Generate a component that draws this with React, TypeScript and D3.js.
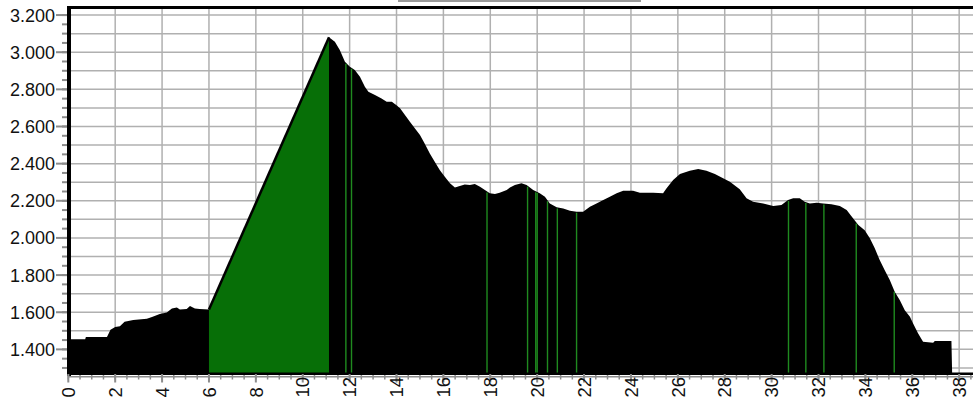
import React from "react";
import * as d3 from "d3";

const W = 973;
const H = 410;

// elevation profile (km, m)
const profileKm = [0, 0.72, 0.75, 1.65, 1.8, 2.0, 2.2, 2.4, 2.77, 3.35, 3.6, 3.9, 4.2, 4.42, 4.63, 4.76, 5.05, 5.19, 5.4, 5.6, 6.0,
  11.12, 11.37, 11.58, 11.8, 12.01, 12.22, 12.44, 12.65, 12.8, 13.08, 13.36, 13.58, 13.8, 14.0, 14.15, 14.36, 14.57, 14.78, 15.0,
  15.2, 15.42, 15.63, 15.85, 16.06, 16.28, 16.49, 16.7, 16.91, 17.13, 17.34, 17.56, 17.77, 17.98, 18.2, 18.4, 18.7, 18.84, 19.05,
  19.33, 19.55, 19.83, 20.11, 20.33, 20.54, 20.83, 21.11, 21.4, 21.68, 21.96, 22.25, 22.53, 22.82, 23.1, 23.39, 23.67, 24.09,
  24.38, 24.95, 25.37, 25.52, 25.8, 26.09, 26.51, 26.87, 27.22, 27.58, 27.93, 28.22, 28.64, 28.93, 29.21, 29.64, 30.07, 30.42,
  30.7, 30.92, 31.2, 31.41, 31.63, 31.92, 32.2, 32.55, 32.91, 33.2, 33.48, 33.7, 33.97, 34.19, 34.4, 34.61, 34.82, 35.04, 35.25,
  35.47, 35.68, 35.9, 36.03, 36.25, 36.46, 36.89, 36.96, 37.67, 37.7, 38.7];
const profileElev = [1454, 1454, 1466, 1466, 1505, 1520, 1524, 1549, 1558, 1565, 1576, 1590, 1599, 1620, 1626, 1615, 1618, 1633, 1620, 1618, 1615,
  3080, 3056, 3012, 2949, 2922, 2904, 2868, 2814, 2787, 2769, 2751, 2733, 2733, 2715, 2698, 2662, 2625, 2590, 2554,
  2509, 2455, 2410, 2365, 2329, 2294, 2272, 2279, 2288, 2285, 2290, 2276, 2258, 2240, 2236, 2243, 2258, 2272, 2285,
  2294, 2285, 2258, 2240, 2222, 2186, 2165, 2159, 2146, 2141, 2141, 2168, 2186, 2204, 2222, 2240, 2254, 2254,
  2243, 2243, 2240, 2267, 2312, 2344, 2362, 2371, 2362, 2344, 2321, 2303, 2262, 2213, 2195, 2186, 2172, 2177,
  2204, 2213, 2213, 2195, 2186, 2190, 2186, 2182, 2172, 2150, 2105, 2069, 2042, 1998, 1944, 1881, 1827, 1773, 1710,
  1665, 1611, 1575, 1540, 1486, 1441, 1436, 1445, 1445, 1270, 1270];

// climb segment (green)
const climbKm = [6.0, 11.12];
const climbElev = [1615, 3080];

// short green marker segments
const markerKm = [11.84, 12.08, 17.86, 19.59, 19.94, 20.0, 20.44, 20.86, 21.68, 30.72, 31.46, 32.23, 33.61, 35.23];

const yTickValues = [1400, 1600, 1800, 2000, 2200, 2400, 2600, 2800, 3000, 3200];
const yTickLabels = ["1.400", "1.600", "1.800", "2.000", "2.200", "2.400", "2.600", "2.800", "3.000", "3.200"];
const xTickValues = [0, 2, 4, 6, 8, 10, 12, 14, 16, 18, 20, 22, 24, 26, 28, 30, 32, 34, 36, 38];

export default function App() {
  const x = d3.scaleLinear().domain([0, 38.59]).range([68.3, 973]);
  const y = d3.scaleLinear().domain([1262, 3238]).range([375, 8]);
  const base = 375;

  const pts: [number, number][] = profileKm.map((k, i) => [k, profileElev[i]]);
  const area = d3.area<[number, number]>().x(d => x(d[0])).y0(base).y1(d => y(d[1]));
  const climbPts: [number, number][] = climbKm.map((k, i) => [k, climbElev[i]]);
  const line = d3.line<[number, number]>().x(d => x(d[0])).y(d => y(d[1]));

  const elevAt = (k: number) => {
    const i = d3.bisectRight(profileKm, k);
    const k0 = profileKm[i - 1], k1 = profileKm[i];
    const e0 = profileElev[i - 1], e1 = profileElev[i];
    return e0 + (e1 - e0) * (k - k0) / (k1 - k0);
  };

  const yGrid = d3.range(1300, 3201, 100);
  const yMinor = d3.range(1300, 3201, 50);
  const xGrid = d3.range(2, 39, 2);
  const xMinor = d3.range(0, 38.6, 0.5);
  const font = "'Liberation Sans', Arial, sans-serif";

  return (
    <svg width={W} height={H} style={{ position: "absolute", left: 0, top: 0, background: "#fff" }}>
      {/* grid */}
      {yGrid.map(v => (
        <line key={"gy" + v} x1={68} x2={W} y1={y(v)} y2={y(v)} stroke="#b0b0b0" strokeWidth={1.5} />
      ))}
      {xGrid.map(v => (
        <line key={"gx" + v} x1={x(v)} x2={x(v)} y1={8} y2={base} stroke="#b0b0b0" strokeWidth={1.5} />
      ))}
      {/* profile */}
      <path d={area(pts) || ""} fill="#000" />
      <path d={area(climbPts) || ""} fill="#076f07" />
      <path d={line(climbPts) || ""} fill="none" stroke="#000" strokeWidth={2.5} />
      {markerKm.map((k, i) => (
        <line key={"m" + i} x1={x(k)} x2={x(k)} y1={base} y2={y(elevAt(k)) + 1} stroke="#1f8a1f" strokeWidth={1.4} />
      ))}
      {/* frame */}
      <line x1={67} x2={W} y1={7.5} y2={7.5} stroke="#000" strokeWidth={3} />
      <line x1={69} x2={69} y1={6} y2={376} stroke="#000" strokeWidth={4} />
      <line x1={67} x2={W} y1={373.8} y2={373.8} stroke="#000" strokeWidth={2.5} />
      <line x1={68} x2={W} y1={376.8} y2={376.8} stroke="#8c8c8c" strokeWidth={1.5} />
      <line x1={398} x2={641} y1={1} y2={1} stroke="#9a9a9a" strokeWidth={2} />
      {/* x ticks */}
      {xMinor.map(v => (
        <line key={"xm" + v} x1={x(v)} x2={x(v)} y1={375} y2={379.5} stroke="#8c8c8c" strokeWidth={1.5} />
      ))}
      {xTickValues.map(v => (
        <line key={"xt" + v} x1={x(v)} x2={x(v)} y1={374} y2={382.5} stroke="#8c8c8c" strokeWidth={2} />
      ))}
      {xTickValues.map(v => (
        <text key={"xl" + v} transform={`translate(${x(v)},397.5) rotate(-90)`} textAnchor="start" dy="0.36em"
          fontFamily={font} fontSize={18.5} fill="#111">{String(v)}</text>
      ))}
      {/* y ticks */}
      {yMinor.map(v => (
        <line key={"ym" + v} x1={62} x2={67} y1={y(v)} y2={y(v)} stroke="#8c8c8c" strokeWidth={2} />
      ))}
      {yTickValues.map((v, i) => (
        <g key={"yt" + v}>
          <line x1={56} x2={67} y1={y(v)} y2={y(v)} stroke="#8c8c8c" strokeWidth={2} />
          <text x={55} y={y(v)} dy="0.36em" textAnchor="end" fontFamily={font} fontSize={18} fill="#111">{yTickLabels[i]}</text>
        </g>
      ))}
    </svg>
  );
}
